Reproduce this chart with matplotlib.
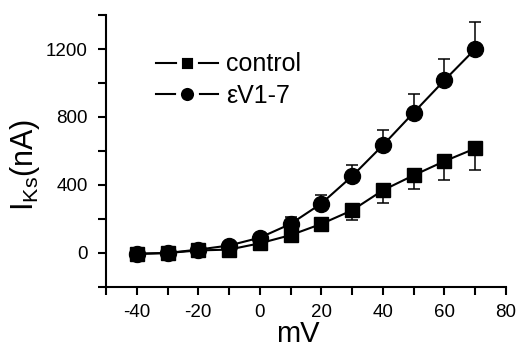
import matplotlib.pyplot as plt
from matplotlib.lines import Line2D
import numpy as np

plt.rcParams["font.family"] = ["Liberation Sans", "DejaVu Sans"]
plt.rcParams["axes.unicode_minus"] = False

# Data: voltage steps (mV) and I_Ks currents (nA)
mv = np.array([-40, -30, -20, -10, 0, 10, 20, 30, 40, 50, 60, 70])
control = np.array([-5, 0, 15, 20, 57, 105, 171, 251, 369, 457, 540, 615])
control_err = np.array([5, 5, 8, 10, 15, 39, 40, 56, 76, 83, 110, 128])
ev17 = np.array([-5, 0, 20, 44, 90, 171, 291, 452, 634, 826, 1016, 1200])
ev17_err = np.array([5, 5, 8, 10, 15, 43, 52, 67, 88, 107, 125, 160])
labels = ["control", "\u03b5V1-7"]

fig = plt.figure(figsize=(5.16, 3.49), dpi=100)
ax = fig.add_axes([0.2054, 0.1777, 0.7752, 0.7793])

zeros = np.zeros_like(mv)
# control: lower error bars only, eV1-7: upper only
ax.errorbar(mv, control, yerr=[control_err, zeros], color="black", marker="s",
            markersize=10.5, linewidth=1.5, elinewidth=1.1, capsize=4, capthick=1.1)
ax.errorbar(mv, ev17, yerr=[zeros, ev17_err], color="black", marker="o",
            markersize=11.5, linewidth=1.5, elinewidth=1.1, capsize=4, capthick=1.1)

ax.set_xlim(-50, 80)
ax.set_ylim(-110, 1400)
ax.set_xticks(np.arange(-40, 81, 20))
ax.set_xticks(np.arange(-50, 81, 10), minor=True)
ax.set_yticks(np.arange(0, 1201, 400))
ax.set_yticks(np.arange(-200, 1401, 200), minor=True)
ax.tick_params(which="both", direction="out", length=6, width=1.5, labelsize=13.5)
ax.tick_params(axis="x", pad=6)
ax.tick_params(axis="y", pad=7)
for side in ["top", "right"]:
    ax.spines[side].set_visible(False)
for side in ["left", "bottom"]:
    ax.spines[side].set_linewidth(1.5)

ax.set_xlabel("mV", fontsize=21)
ax.xaxis.set_label_coords(0.48, -0.122)
ax.set_ylabel("I$_{\\mathregular{Ks}}$(nA)", fontsize=22)
ax.yaxis.set_label_coords(-0.16, 0.45)

# legend handles: small markers with a gap to the line on each side
handles = [
    Line2D([], [], color="black", linewidth=1.5, marker="s", markersize=12,
           markerfacecolor="black", markeredgecolor="white", markeredgewidth=3.5),
    Line2D([], [], color="black", linewidth=1.5, marker="o", markersize=13,
           markerfacecolor="black", markeredgecolor="white", markeredgewidth=3.5),
]
ax.legend(handles, labels, loc="upper left", bbox_to_anchor=(0.125, 0.863),
          frameon=False, fontsize=18, handlelength=2.5, handletextpad=0.3,
          labelspacing=0.3, borderpad=0, borderaxespad=0, numpoints=1)

fig.savefig("out.png", dpi=100)
